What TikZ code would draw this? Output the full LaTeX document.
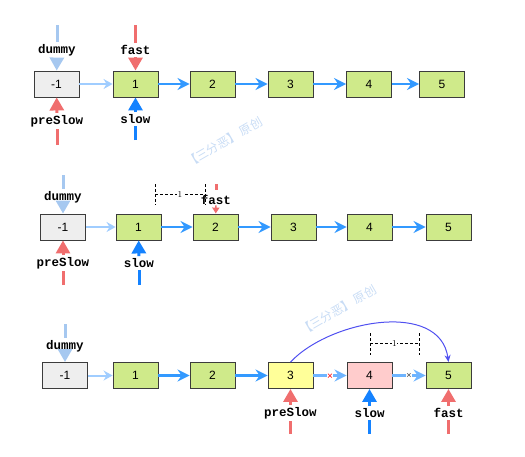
\documentclass[tikz,border=0pt]{standalone}
\usepackage{fontspec}
\setsansfont{Liberation Sans}
\setmonofont{Liberation Mono}
\newfontfamily\cjkfont{Noto Sans CJK SC}
\usetikzlibrary{arrows.meta}
\definecolor{boxline}{RGB}{60,60,60}
\definecolor{nodegreen}{RGB}{207,234,138}
\definecolor{dummygray}{RGB}{238,238,238}
\definecolor{preyellow}{RGB}{255,255,153}
\definecolor{delpink}{RGB}{255,204,204}
\definecolor{linkblue}{RGB}{51,153,255}
\definecolor{cutlink}{RGB}{110,180,255}
\definecolor{lightlink}{RGB}{160,205,255}
\definecolor{dummyblue}{RGB}{166,200,240}
\definecolor{ptrred}{RGB}{240,110,110}
\definecolor{ptrblue}{RGB}{20,130,255}
\definecolor{jumpviolet}{RGB}{80,80,240}
\definecolor{wmblue}{RGB}{200,220,245}

\tikzset{
  listnode/.style={draw=boxline, line width=0.9pt, fill=nodegreen, minimum width=45pt, minimum height=26pt, inner sep=0pt, font=\sffamily\fontsize{12}{14}\selectfont},
  dummynode/.style={listnode, fill=dummygray},
  link/.style={draw=linkblue, line width=2.5pt, -{Stealth[length=12pt,width=12pt,inset=4pt]}},
  weaklink/.style={draw=lightlink, line width=2pt, -{Stealth[length=9pt,width=10pt,inset=3pt]}},
  ptrname/.style={font=\ttfamily\bfseries\fontsize{12.5}{14}\selectfont, inner sep=2pt},
  ptrtail/.style={line width=3pt},
  ptrhead/.style={line width=3pt, -{Triangle[length=13pt,width=14pt]}},
  gap/.style={line width=0.6pt, dash pattern=on 3pt off 2pt},
  cut/.style={fill=white, inner sep=0.3pt},
  watermark/.style={rotate=30, text=wmblue, font=\cjkfont\fontsize{12}{12}\selectfont}
}

\begin{document}
\begin{tikzpicture}[x=1pt,y=1pt,yscale=-1]
\useasboundingbox (0,0) rectangle (525,456);

%Watermarks (y upwards in this scope)
\begin{scope}[yscale=-1]
\node[watermark] (wmA) at (224,-142) {【三分恶】\,原创};
\node[watermark] (wmB) at (338,-310) {【三分恶】\,原创};
\end{scope}

%Row 1: start
\node[dummynode] (a0) at (56.5,84) {-1};
\node[listnode] (a1) at (135.5,84) {1};
\node[listnode] (a2) at (212.5,84) {2};
\node[listnode] (a3) at (290.5,84) {3};
\node[listnode] (a4) at (369,84) {4};
\node[listnode] (a5) at (442,84) {5};
\draw[weaklink] (a0) -- (a1);
\draw[link] (a1) -- (a2);
\draw[link] (a2) -- (a3);
\draw[link] (a3) -- (a4);
\draw[link] (a4) -- (a5);
% pointers
\coordinate (aDummyTop) at (57,25);
\node[ptrname] (aDummy) at (57,50) {dummy};
\draw[ptrtail, dummyblue] (aDummyTop) -- (aDummy);
\draw[ptrhead, dummyblue] (aDummy) -- (a0);
\coordinate (aFastTop) at (135.5,25);
\node[ptrname] (aFast) at (135.5,50) {fast};
\draw[ptrtail, ptrred] (aFastTop) -- (aFast);
\draw[ptrhead, ptrred] (aFast) -- (a1);
\coordinate (aPreEnd) at (57,145);
\node[ptrname] (aPre) at (57,121) {preSlow};
\draw[ptrtail, ptrred] (aPreEnd) -- (aPre);
\draw[ptrhead, ptrred] (aPre) -- (a0);
\coordinate (aSlowEnd) at (135.5,140);
\node[ptrname] (aSlow) at (135.5,119) {slow};
\draw[ptrtail, ptrblue] (aSlowEnd) -- (aSlow);
\draw[ptrhead, ptrblue] (aSlow) -- (a1);

%Row 2: fast moves ahead by one
\node[dummynode] (b0) at (63,227) {-1};
\node[listnode] (b1) at (138.5,227) {1};
\node[listnode] (b2) at (215.5,227) {2};
\node[listnode] (b3) at (293.5,227) {3};
\node[listnode] (b4) at (369.5,227) {4};
\node[listnode] (b5) at (448.5,227) {5};
\draw[weaklink] (b0) -- (b1);
\draw[link] (b1) -- (b2);
\draw[link] (b2) -- (b3);
\draw[link] (b3) -- (b4);
\draw[link] (b4) -- (b5);
% pointers
\coordinate (bDummyTop) at (63,175);
\node[ptrname] (bDummy) at (63,197) {dummy};
\draw[ptrtail, dummyblue] (bDummyTop) -- (bDummy);
\draw[ptrhead, dummyblue] (bDummy) -- (b0);
\coordinate (bPreEnd) at (63,285);
\node[ptrname] (bPre) at (63,263) {preSlow};
\draw[ptrtail, ptrred] (bPreEnd) -- (bPre);
\draw[ptrhead, ptrred] (bPre) -- (b0);
\coordinate (bSlowEnd) at (139,285);
\node[ptrname] (bSlow) at (139,263) {slow};
\draw[ptrtail, ptrblue] (bSlowEnd) -- (bSlow);
\draw[ptrhead, ptrblue] (bSlow) -- (b1);
\coordinate (bFastTop) at (216,184);
\node[ptrname, inner sep=0.5pt] (bFast) at (216,200) {fast};
\draw[ptrtail, ptrred] (bFastTop) -- ++(0,6);
\draw[ptrred, line width=1.5pt, -{Triangle[length=6pt,width=7pt]}] (bFast) -- (b2);
% gap of 1
\coordinate (bGapL) at (155,184);
\coordinate (bGapR) at (205,184);
\draw[gap] (bGapL) -- ++(0,21);
\draw[gap] (bGapR) -- ++(0,21);
\draw[gap] ([yshift=10pt]bGapL) -- node[fill=white, inner sep=0.6pt, font=\fontsize{9}{9}\selectfont] (bOne) {1} ([yshift=10pt]bGapR);

%Row 3: preSlow.next = slow.next
\node[dummynode] (c0) at (65,375.5) {-1};
\node[listnode] (c1) at (135.5,375.5) {1};
\node[listnode] (c2) at (212.5,375.5) {2};
\node[listnode, fill=preyellow] (c3) at (290.5,375.5) {3};
\node[listnode, fill=delpink] (c4) at (369.5,375.5) {4};
\node[listnode] (c5) at (448.5,375.5) {5};
\draw[weaklink] (c0) -- (c1);
\draw[link] (c1) -- (c2);
\draw[link] (c2) -- (c3);
\draw[link, cutlink] (c3) -- (c4);
\draw[link, cutlink] (c4) -- (c5);
\node[cut, text=red, font=\sffamily\fontsize{10}{10}\selectfont] (cCutA) at (330,377) {×};
\node[cut, text=boxline, font=\sffamily\fontsize{9}{9}\selectfont] (cCutB) at (409,376) {×};
\draw[jumpviolet, line width=1pt, -{Stealth[length=7pt,width=6pt]}] (c3.north) .. controls (330,320) and (440,300) .. (c5.north);
% gap of 1
\coordinate (cGapL) at (370,333);
\coordinate (cGapR) at (419,333);
\draw[gap] (cGapL) -- ++(0,22);
\draw[gap] (cGapR) -- ++(0,22);
\draw[gap] ([yshift=10pt]cGapL) -- node[fill=white, inner sep=0.6pt, font=\fontsize{9}{9}\selectfont] (cOne) {1} ([yshift=10pt]cGapR);
% pointers
\coordinate (cDummyTop) at (65,324);
\node[ptrname] (cDummy) at (65,346) {dummy};
\draw[ptrtail, dummyblue] (cDummyTop) -- (cDummy);
\draw[ptrhead, dummyblue] (cDummy) -- (c0);
\coordinate (cPreEnd) at (290.5,434);
\node[ptrname] (cPre) at (290.5,413) {preSlow};
\draw[ptrtail, ptrred] (cPreEnd) -- (cPre);
\draw[ptrhead, ptrred] (cPre) -- (c3);
\coordinate (cSlowEnd) at (369.5,434);
\node[ptrname] (cSlow) at (369.5,413) {slow};
\draw[ptrtail, ptrblue] (cSlowEnd) -- (cSlow);
\draw[ptrhead, ptrblue] (cSlow) -- (c4);
\coordinate (cFastEnd) at (448.5,434);
\node[ptrname] (cFast) at (448.5,413) {fast};
\draw[ptrtail, ptrred] (cFastEnd) -- (cFast);
\draw[ptrhead, ptrred] (cFast) -- (c5);

\end{tikzpicture}
\end{document}
